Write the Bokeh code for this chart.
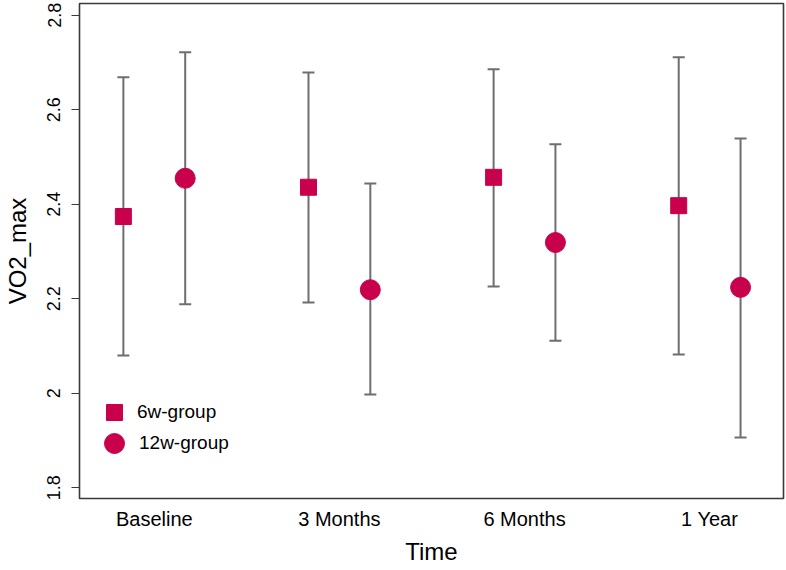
from bokeh.plotting import figure
from bokeh.models import (ColumnDataSource, Whisker, TeeHead, Legend, LegendItem,
                          FixedTicker, Range1d)
from bokeh.embed import file_html
from bokeh.resources import INLINE

# ---- data ----
categories = ["Baseline", "3 Months", "6 Months", "1 Year"]
group_names = ["6w-group", "12w-group"]

mean_6w = [2.374, 2.436, 2.457, 2.397]
upper_6w = [2.669, 2.679, 2.686, 2.711]
lower_6w = [2.080, 2.192, 2.226, 2.082]

mean_12w = [2.455, 2.219, 2.319, 2.224]
upper_12w = [2.722, 2.444, 2.527, 2.539]
lower_12w = [2.188, 1.997, 2.111, 1.906]

y_ticks = [1.8, 2.0, 2.2, 2.4, 2.6, 2.8]
y_tick_labels = ["1.8", "2", "2.2", "2.4", "2.6", "2.8"]

# ---- styling ----
FONT = "Liberation Sans"
RED = "#C9004C"
GREY = "#6E6E6E"
DODGE = 0.167

pos = list(range(1, len(categories) + 1))
src6 = ColumnDataSource(dict(x=[p - DODGE for p in pos], y=mean_6w, upper=upper_6w, lower=lower_6w))
src12 = ColumnDataSource(dict(x=[p + DODGE for p in pos], y=mean_12w, upper=upper_12w, lower=lower_12w))

p = figure(width=786, height=570, output_backend="svg", toolbar_location=None,
           x_range=Range1d(0.596, 4.399), y_range=Range1d(1.777, 2.825),
           min_border_left=77, min_border_right=3, min_border_top=3, min_border_bottom=72)

p.grid.visible = False
p.outline_line_color = "#3A3A3A"
p.outline_line_width = 1.6
p.background_fill_color = "white"
p.border_fill_color = "white"

for src in (src6, src12):
    w = Whisker(source=src, base="x", upper="upper", lower="lower", dimension="height",
                line_color=GREY, line_width=2,
                upper_head=TeeHead(size=12, line_color=GREY, line_width=2),
                lower_head=TeeHead(size=12, line_color=GREY, line_width=2),
                level="underlay")
    p.add_layout(w)

r_sq = p.scatter("x", "y", source=src6, marker="square", size=16,
                 fill_color=RED, line_color=RED)
r_ci = p.scatter("x", "y", source=src12, marker="circle", size=20,
                 fill_color=RED, line_color=RED)

# x axis
xa = p.xaxis[0]
xa.ticker = FixedTicker(ticks=pos)
xa.major_label_overrides = {pp: c for pp, c in zip(pos, categories)}
xa.minor_tick_line_color = None
xa.major_tick_line_color = None
xa.axis_line_color = None
xa.major_tick_out = 0
xa.major_tick_in = 0
xa.major_label_standoff = 9
xa.major_label_text_font = FONT
xa.major_label_text_font_size = "20px"
xa.major_label_text_color = "black"
xa.axis_label = "Time"
xa.axis_label_text_font = FONT
xa.axis_label_text_font_size = "24px"
xa.axis_label_text_font_style = "normal"
xa.axis_label_text_color = "black"
xa.axis_label_standoff = 5

# y axis
ya = p.yaxis[0]
ya.ticker = FixedTicker(ticks=y_ticks)
ya.major_label_overrides = {t: l for t, l in zip(y_ticks, y_tick_labels)}
ya.major_label_orientation = "vertical"
ya.minor_tick_line_color = None
ya.axis_line_color = None
ya.major_tick_out = 8
ya.major_tick_in = 0
ya.major_tick_line_color = "#3A3A3A"
ya.major_tick_line_width = 1.2
ya.major_label_standoff = 11
ya.major_label_text_font = FONT
ya.major_label_text_font_size = "18px"
ya.major_label_text_color = "black"
ya.axis_label = "VO2_max"
ya.axis_label_text_font = FONT
ya.axis_label_text_font_size = "24px"
ya.axis_label_text_font_style = "normal"
ya.axis_label_text_color = "black"
ya.axis_label_standoff = 14

# legends (one per item so each glyph keeps its own size)
def make_legend(label, renderer, glyph, loc, standoff):
    return Legend(items=[LegendItem(label=label, renderers=[renderer])],
                  location=loc, glyph_width=glyph, glyph_height=glyph,
                  label_standoff=standoff, padding=0, margin=0, spacing=0,
                  border_line_color=None, background_fill_alpha=0,
                  label_text_font=FONT, label_text_font_size="19px",
                  label_text_color="black")

p.add_layout(make_legend(group_names[0], r_sq, 40, (15, 66), 3), "center")
p.add_layout(make_legend(group_names[1], r_ci, 50, (10, 30), -2), "center")

open("out.html", "w").write(file_html(p, INLINE))
